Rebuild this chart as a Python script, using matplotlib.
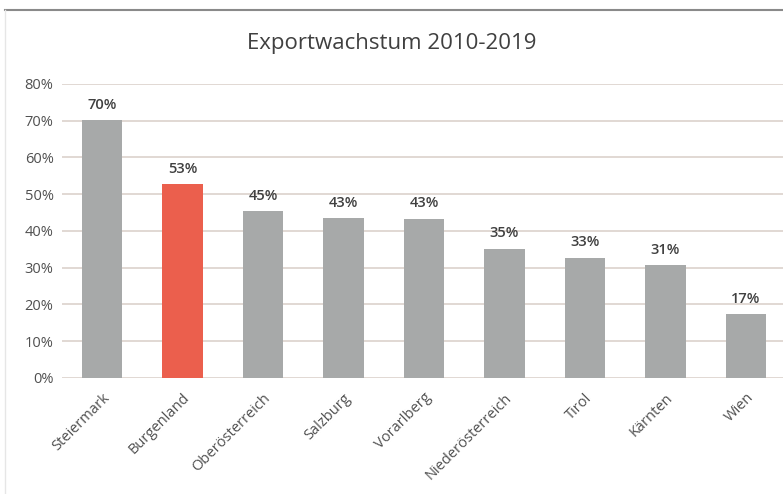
import matplotlib.pyplot as plt
from matplotlib.lines import Line2D
from matplotlib.ticker import PercentFormatter

plt.rcParams['font.family'] = ['Open Sans', 'DejaVu Sans']

regions = ['Steiermark', 'Burgenland', 'Oberösterreich', 'Salzburg', 'Vorarlberg',
           'Niederösterreich', 'Tirol', 'Kärnten', 'Wien']
growth = [70.1, 52.8, 45.3, 43.4, 43.3, 35.2, 32.7, 30.6, 17.3]
highlight = 'Burgenland'

gray = '#a7a9a9'
red = '#eb5f4d'
txt = '#505050'

fig = plt.figure(figsize=(7.83, 4.94), dpi=100)
ax = fig.add_axes([0.079, 0.235, 0.925, 0.595])

colors = [red if r == highlight else gray for r in regions]
x = range(len(regions))
bars = ax.bar(x, growth, width=0.5, color=colors, zorder=2)
for b, v in zip(bars, growth):
    ax.annotate(f'{v:.0f}%', (b.get_x() + b.get_width() / 2, v),
                xytext=(0, 6), textcoords='offset points', ha='center', va='bottom',
                fontsize=10.5, color='#404040', fontweight='semibold')

ax.set_xlim(-0.5, len(regions) - 0.5)
ax.set_ylim(0, 80)
ax.set_yticks(range(0, 81, 10))
ax.yaxis.set_major_formatter(PercentFormatter(decimals=0))
ax.grid(axis='y', color='#dbd2cc', lw=1.2, zorder=0)
for s in ax.spines.values():
    s.set_visible(False)
ax.tick_params(length=0, labelsize=10.5, labelcolor=txt)
ax.tick_params(axis='y', pad=6)
ax.set_xticks(list(x))
ax.set_xticklabels(regions, rotation=45, ha='right', rotation_mode='anchor')
ax.tick_params(axis='x', pad=9)

fig.text(0.5, 0.912, 'Exportwachstum 2010-2019', ha='center', va='center',
         fontsize=16, color='#404040')

# frame lines of the scanned chart
fig.add_artist(Line2D([0.006, 1.0], [0.979, 0.979], color='#8a8a8a', lw=1.5))
fig.add_artist(Line2D([0.006, 0.006], [0.0, 0.979], color='#e6e6e6', lw=1))

fig.savefig('out.png', dpi=100)
